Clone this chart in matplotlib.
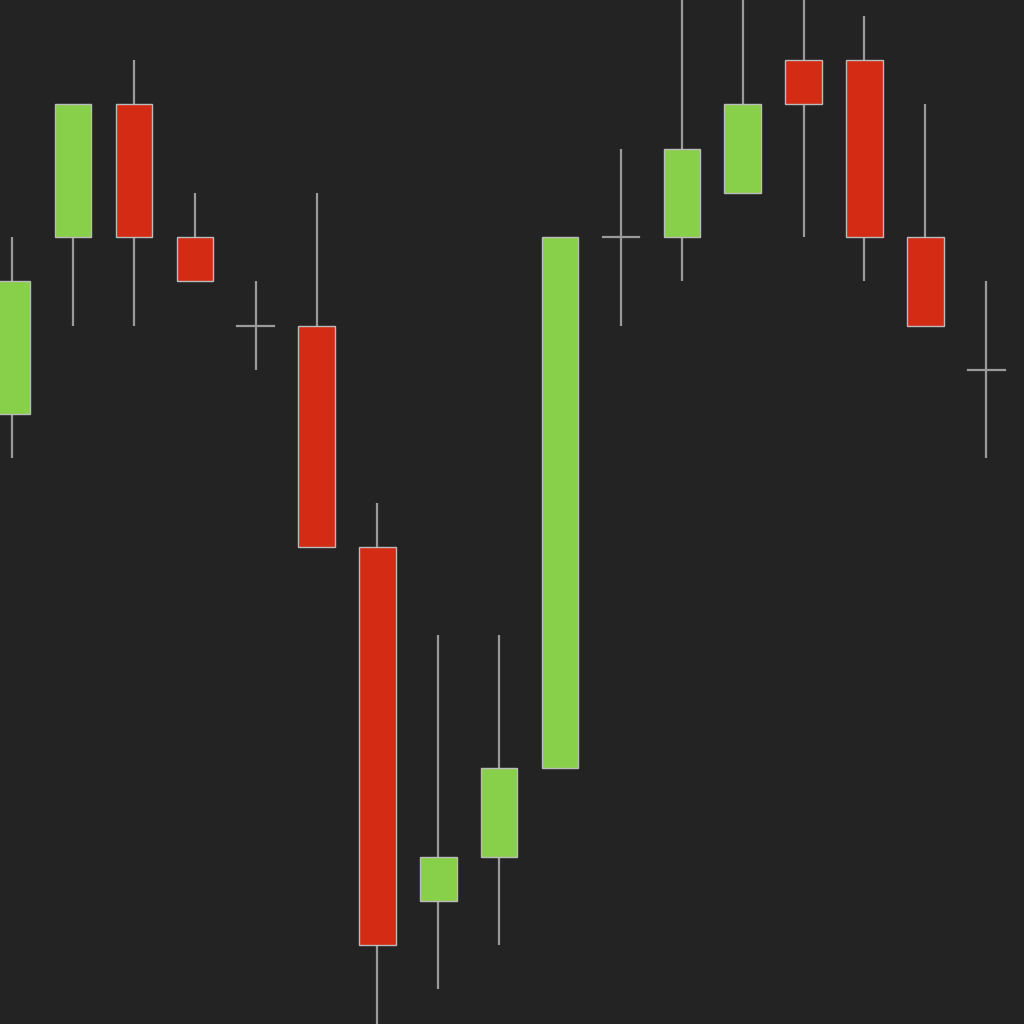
import numpy as np
import matplotlib.pyplot as plt
from matplotlib.patches import Rectangle

# ohlc values (price units)
opens  = [22, 26, 29, 26, 24, 24, 19, 11, 12, 14, 26, 26, 27, 30, 30, 26, 23]
highs  = [26, 29, 30, 27, 25, 27, 20, 17, 17, 26, 28, 32, 32, 32, 31, 29, 25]
lows   = [21, 24, 24, 25, 23, 19, 8, 9, 10, 14, 24, 25, 27, 26, 25, 24, 21]
closes = [25, 29, 26, 25, 24, 19, 10, 12, 14, 26, 26, 28, 29, 29, 26, 24, 23]

up_col = '#88cf4a'
down_col = '#d42b14'
wick_col = '#9a9a9a'
bg = '#232323'

fig = plt.figure(figsize=(10.24, 10.24), dpi=100)
fig.patch.set_facecolor(bg)
ax = fig.add_axes([0, 0, 1, 1])
ax.set_facecolor(bg)

w = 0.6
for i, (o, h, l, c) in enumerate(zip(opens, highs, lows, closes)):
    ax.plot([i, i], [l, h], color=wick_col, lw=1.6, zorder=1, solid_capstyle='butt')
    if o == c:
        ax.plot([i - w / 2, i + w / 2], [o, o], color=wick_col, lw=1.6, zorder=2)
        continue
    col = up_col if c > o else down_col
    ax.add_patch(Rectangle((i - w / 2, min(o, c)), w, abs(c - o),
                           facecolor=col, edgecolor='#bbbbbb', lw=1.0, zorder=2))

ax.set_xlim(-0.2, 16.62)
ax.set_ylim(8.215, 31.356)
ax.axis('off')

fig.savefig('out.png', dpi=100, facecolor=bg)
